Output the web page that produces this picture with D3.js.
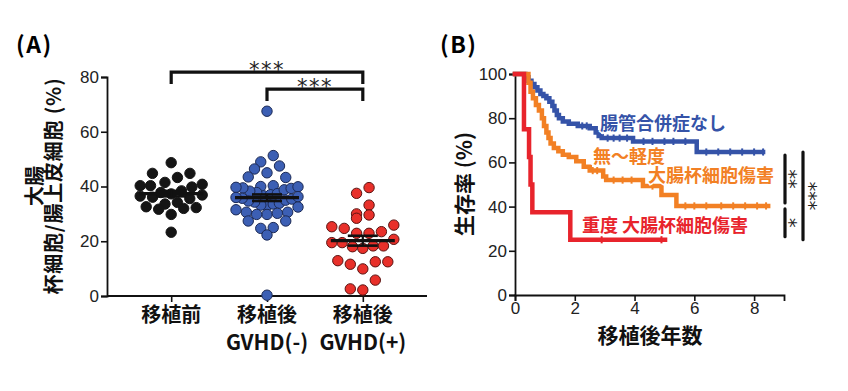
<!DOCTYPE html>
<html><head><meta charset="utf-8">
<script src="https://cdn.jsdelivr.net/npm/d3@7"></script>
<style>
body{margin:0;background:#fff;}
svg{display:block;}
.num{font-family:"Liberation Sans",Arial,sans-serif;}
.star{font-family:"DejaVu Sans",sans-serif;}
.jp{font-family:"Noto Sans CJK JP","Noto Sans",sans-serif;font-weight:bold;}
</style></head>
<body>
<svg id="c" width="848" height="391"></svg>
<script>
// ---------- DATA ----------
const categories = ["移植前", "移植後", "移植後"];
const categorySub = ["", "GVHD(-)", "GVHD(+)"];
const preVals = [48.7, 44.8, 44.8, 43.3, 41.5, 40.8, 40.3, 40.3, 39.8, 38.4, 37.8, 37.3, 36.9, 36.5, 36.1, 35.6, 34.2, 33.6, 32.6, 32.3, 32.0, 31.7, 29.8, 23.3];
const gvhdNegVals = [67.5, 51.3, 49.0, 47.5, 46.4, 45.0, 43.5, 43.3, 40.3, 40.0, 39.9, 39.7, 39.5, 39.3, 38.8, 38.3, 37.8, 37.4, 37.0, 36.6, 36.3, 36.0, 35.7, 35.4, 35.0, 34.7, 34.3, 33.9, 33.6, 33.2, 32.9, 32.5, 31.5, 30.6, 30.6, 30.2, 29.8, 29.8, 27.4, 27.4, 25.0, 24.7, 22.3, 0.3];
const gvhdPosVals = [39.6, 37.5, 33.2, 30.0, 29.6, 28.4, 25.9, 25.3, 24.7, 23.5, 22.9, 22.9, 20.7, 19.5, 19.5, 18.3, 18.3, 18.0, 17.4, 12.9, 12.5, 12.5, 11.6, 9.9, 5.8, 2.6, 2.2];
const groupMeans = [37.4, 35.9, 20.2];
const groupSEM = [1.0, 1.2, 1.8];
const yTicksA = [0, 20, 40, 60, 80];
const sigPairsA = [[0, 2, "***"], [1, 2, "***"]];

const blueT = [0, 0.35, 0.45, 0.55, 0.65, 0.75, 0.85, 0.95, 1.05, 1.15, 1.25, 1.32, 1.40, 1.47, 1.60, 1.80, 2.10, 2.50, 2.70, 2.80, 2.90, 3.95, 6.08, 8.30];
const blueS = [100, 98.5, 97, 95.5, 94, 92.5, 91, 90, 89, 87.5, 85.5, 83.5, 81.5, 80, 78.5, 77.5, 76.5, 75.5, 73.5, 72, 71, 69.5, 64.7, 64.7];
const blueCensor = [2.25, 2.4, 3.1, 3.3, 3.5, 3.75, 4.3, 4.6, 5.0, 5.3, 5.7, 6.4, 6.8, 7.2, 7.6, 8.0, 8.3];
const orangeT = [0, 0.45, 0.52, 0.60, 0.70, 0.80, 0.90, 0.97, 1.05, 1.12, 1.19, 1.30, 1.45, 1.60, 1.80, 2.05, 2.30, 2.50, 2.95, 3.05, 4.28, 4.90, 5.40, 8.47];
const orangeS = [100, 96, 92, 89, 86, 83.5, 80, 76.5, 73.5, 71, 68.5, 66.5, 65, 63.5, 62.5, 60.5, 58, 56.3, 53.6, 52, 49.3, 45.3, 40.3, 40.3];
const orangeCensor = [2.6, 2.75, 3.3, 3.6, 3.9, 4.6, 5.7, 6.0, 6.4, 6.9, 7.3, 7.7, 8.1, 8.4];
const redT = [0, 0.30, 0.47, 0.52, 0.58, 1.85, 5.02];
const redS = [100, 75, 62.5, 50, 37.5, 25, 25];
const redCensor = [2.9, 4.9];
const xTicksB = [0, 2, 4, 6, 8];
const yTicksB = [0, 20, 40, 60, 80, 100];
const curveLabels = [["腸管合併症なし"], ["無～軽度", "大腸杯細胞傷害"], ["重度 大腸杯細胞傷害"]];
const sigB = [["**", 1, 0], ["*", 2, 1], ["***", 2, 0]];

// ---------- STYLE ----------
const dotFill = ["#151515", "#3c5fb4", "#e8302a"];
const dotStroke = ["#151515", "#1c2a55", "#5a1210"];
const curveColors = ["#3553a8", "#f28024", "#e8242c"];

const svg = d3.select("#c");

// ---------- PANEL A ----------
const yA = d3.scaleLinear().domain([0, 80]).range([296, 77]);
const xA = d3.scalePoint().domain([0, 1, 2]).range([107, 427]).padding(0.67);

svg.append("text").attr("class", "jp").attr("x", 16).attr("y", 53)
  .attr("font-size", 23).attr("letter-spacing", 1.5).text("(A)");

const gyA = svg.append("g").attr("transform", "translate(107,0)")
  .call(d3.axisLeft(yA).tickValues(yTicksA).tickSize(6).tickPadding(2));
gyA.select(".domain").attr("stroke", "#111").attr("stroke-width", 1.8);
gyA.selectAll(".tick line").attr("stroke", "#111").attr("stroke-width", 1.6);
gyA.selectAll(".tick text").attr("class", "num").attr("font-size", 17).attr("fill", "#222");

const gxA = svg.append("g").attr("transform", "translate(0,296)")
  .call(d3.axisBottom(xA).tickSize(6).tickFormat(""));
gxA.select(".domain").attr("stroke", "#111").attr("stroke-width", 1.8).attr("d", "M107,0H427");
gxA.selectAll(".tick line").attr("stroke", "#111").attr("stroke-width", 1.6);

categories.forEach((c, i) => {
  svg.append("text").attr("class", "jp").attr("x", xA(i)).attr("y", 322)
    .attr("text-anchor", "middle").attr("font-size", 20).attr("fill", "#111").text(c);
  if (categorySub[i]) svg.append("text").attr("class", "jp").attr("x", xA(i)).attr("y", 350)
    .attr("text-anchor", "middle").attr("font-size", 21).attr("fill", "#111").text(categorySub[i]);
});

// y title
const yt = svg.append("g").attr("transform", "translate(0,186) rotate(-90)");
yt.append("text").attr("class", "jp").attr("x", 0).attr("y", 42).attr("text-anchor", "middle")
  .attr("font-size", 20).attr("fill", "#111").text("大腸");
yt.append("text").attr("class", "jp").attr("x", 0).attr("y", 61).attr("text-anchor", "middle")
  .attr("font-size", 20).attr("letter-spacing", 0.8).attr("fill", "#111").text("杯細胞/腸上皮細胞 (%)");

// row-binned scatter (GraphPad-like)
function rows(vals, cx, binVal, maxW, step) {
  const sorted = vals.map((v, i) => ({ v, i })).sort((a, b) => b.v - a.v);
  const out = [];
  let k = 0;
  while (k < sorted.length) {
    const top = sorted[k].v;
    const row = [];
    while (k < sorted.length && top - sorted[k].v < binVal) { row.push(sorted[k]); k++; }
    const n = row.length;
    const s = n > 1 ? Math.min(step, maxW / (n - 1)) : 0;
    const slots = d3.range(n).map(j => (j - (n - 1) / 2) * s);
    const pos = slots.filter(x => x > 0).sort((a, b) => a - b);
    const neg = slots.filter(x => x < 0).sort((a, b) => b - a);
    const ordered = slots.filter(x => x === 0);
    for (let j = 0; j < Math.max(pos.length, neg.length); j++) {
      if (j % 2 === 0) { if (neg[j] !== undefined) ordered.push(neg[j]); if (pos[j] !== undefined) ordered.push(pos[j]); }
      else { if (pos[j] !== undefined) ordered.push(pos[j]); if (neg[j] !== undefined) ordered.push(neg[j]); }
    }
    row.sort((a, b) => a.v - b.v).forEach((p, j) => out.push({ x: cx + ordered[j], y: yA(p.v), v: p.v }));
  }
  return out;
}
const groups = [preVals, gvhdNegVals, gvhdPosVals];
groups.forEach((vals, gi) => {
  const pts = rows(vals, xA(gi), 3.6, 62, 12.5);
  svg.append("g").selectAll("circle").data(pts).join("circle")
    .attr("cx", d => d.x).attr("cy", d => d.y).attr("r", 5.2)
    .attr("fill", dotFill[gi]).attr("stroke", dotStroke[gi]).attr("stroke-width", 1);
  const cx = xA(gi);
  svg.append("line").attr("x1", cx - 32).attr("x2", cx + 32)
    .attr("y1", yA(groupMeans[gi])).attr("y2", yA(groupMeans[gi])).attr("stroke", "#111").attr("stroke-width", 3.2);
  [1, -1].forEach(s => {
    svg.append("line").attr("x1", cx - 15).attr("x2", cx + 15)
      .attr("y1", yA(groupMeans[gi] + s * groupSEM[gi])).attr("y2", yA(groupMeans[gi] + s * groupSEM[gi]))
      .attr("stroke", "#111").attr("stroke-width", 2.6);
  });
  svg.append("line").attr("x1", cx).attr("x2", cx)
    .attr("y1", yA(groupMeans[gi] + groupSEM[gi])).attr("y2", yA(groupMeans[gi] - groupSEM[gi]))
    .attr("stroke", "#111").attr("stroke-width", 2.2);
});

// significance brackets A
const bracketTop = [81.8, 75.6], bracketEnd = [77.4, 71.2];
sigPairsA.forEach((p, k) => {
  const x1 = xA(p[0]), x2 = xA(p[1]);
  svg.append("path").attr("fill", "none").attr("stroke", "#111").attr("stroke-width", 3.2)
    .attr("stroke-linejoin", "miter")
    .attr("d", `M${x1},${yA(bracketEnd[k])}V${yA(bracketTop[k])}H${x2}V${yA(bracketEnd[k])}`);
  svg.append("text").attr("class", "star").attr("x", (x1 + x2) / 2).attr("y", yA(bracketTop[k]) + 5)
    .attr("text-anchor", "middle").attr("font-size", 21).attr("letter-spacing", 1.5).attr("fill", "#222").text(p[2]);
});

// ---------- PANEL B ----------
const xB = d3.scaleLinear().domain([0, 9]).range([515, 784]);
const yB = d3.scaleLinear().domain([0, 100]).range([295, 74]);

svg.append("text").attr("class", "jp").attr("x", 440).attr("y", 53)
  .attr("font-size", 23).attr("letter-spacing", 1.5).text("(B)");

const gyB = svg.append("g").attr("transform", "translate(515,0)")
  .call(d3.axisLeft(yB).tickValues(yTicksB).tickSize(6).tickPadding(2));
gyB.select(".domain").attr("stroke", "#111").attr("stroke-width", 1.8);
gyB.selectAll(".tick line").attr("stroke", "#111").attr("stroke-width", 1.6);
gyB.selectAll(".tick text").attr("class", "num").attr("font-size", 17).attr("fill", "#222");

const gxB = svg.append("g").attr("transform", "translate(0,295)")
  .call(d3.axisBottom(xB).tickValues(xTicksB).tickSize(6).tickPadding(1));
gxB.select(".domain").attr("stroke", "#111").attr("stroke-width", 1.8);
gxB.selectAll(".tick line").attr("stroke", "#111").attr("stroke-width", 1.6);
gxB.selectAll(".tick text").attr("class", "num").attr("font-size", 17).attr("fill", "#222");

svg.append("text").attr("class", "jp").attr("x", 650).attr("y", 343).attr("text-anchor", "middle")
  .attr("font-size", 21).attr("fill", "#111").text("移植後年数");
svg.append("text").attr("class", "jp").attr("transform", "translate(472,184) rotate(-90)")
  .attr("text-anchor", "middle").attr("font-size", 21).attr("fill", "#111").text("生存率 (%)");

const curves = [[blueT, blueS, blueCensor], [orangeT, orangeS, orangeCensor], [redT, redS, redCensor]];
const stepLine = d3.line().x(d => xB(d[0])).y(d => yB(d[1])).curve(d3.curveStepAfter);
curves.forEach((c, ci) => {
  const pts = c[0].map((t, i) => [t, c[1][i]]);
  svg.append("path").attr("d", stepLine(pts)).attr("fill", "none")
    .attr("stroke", curveColors[ci]).attr("stroke-width", 4.5).attr("stroke-linecap", "square");
  const sAt = t => { let s = 100; c[0].forEach((tt, i) => { if (tt <= t) s = c[1][i]; }); return s; };
  svg.append("g").selectAll("line").data(c[2]).join("line")
    .attr("x1", d => xB(d)).attr("x2", d => xB(d))
    .attr("y1", d => yB(sAt(d)) - 3.6).attr("y2", d => yB(sAt(d)) + 3.6)
    .attr("stroke", curveColors[ci]).attr("stroke-width", 2);
});

// curve labels
const labelPos = [[[600, 130]], [[593, 163], [648, 182]], [[582, 232]]];
curveLabels.forEach((lines, ci) => {
  lines.forEach((txt, li) => {
    svg.append("text").attr("class", "jp").attr("x", labelPos[ci][li][0]).attr("y", labelPos[ci][li][1])
      .attr("font-size", 18).attr("fill", curveColors[ci])
      .attr("stroke", "#fff").attr("stroke-width", 3).attr("paint-order", "stroke").text(txt);
  });
});

// significance bars B
const finalS = [64.7, 40.3, 25];
const barX = [785, 785, 803];
const starDx = [-2, -2, 0];
sigB.forEach((s, k) => {
  const yTop = yB(finalS[s[2]]);
  const yBot = yB(finalS[s[1]]);
  const gap = k === 2 ? 0 : 3;
  svg.append("line").attr("x1", barX[k]).attr("x2", barX[k])
    .attr("y1", yTop + gap).attr("y2", yBot - gap)
    .attr("stroke", "#111").attr("stroke-width", 3.2).attr("stroke-linecap", "round");
  const cy = (yTop + yBot) / 2;
  svg.append("text").attr("class", "star")
    .attr("transform", `translate(${barX[k] + starDx[k]},${cy}) rotate(90)`)
    .attr("text-anchor", "middle").attr("font-size", 19).attr("fill", "#222").text(s[0]);
});
</script>
</body></html>
